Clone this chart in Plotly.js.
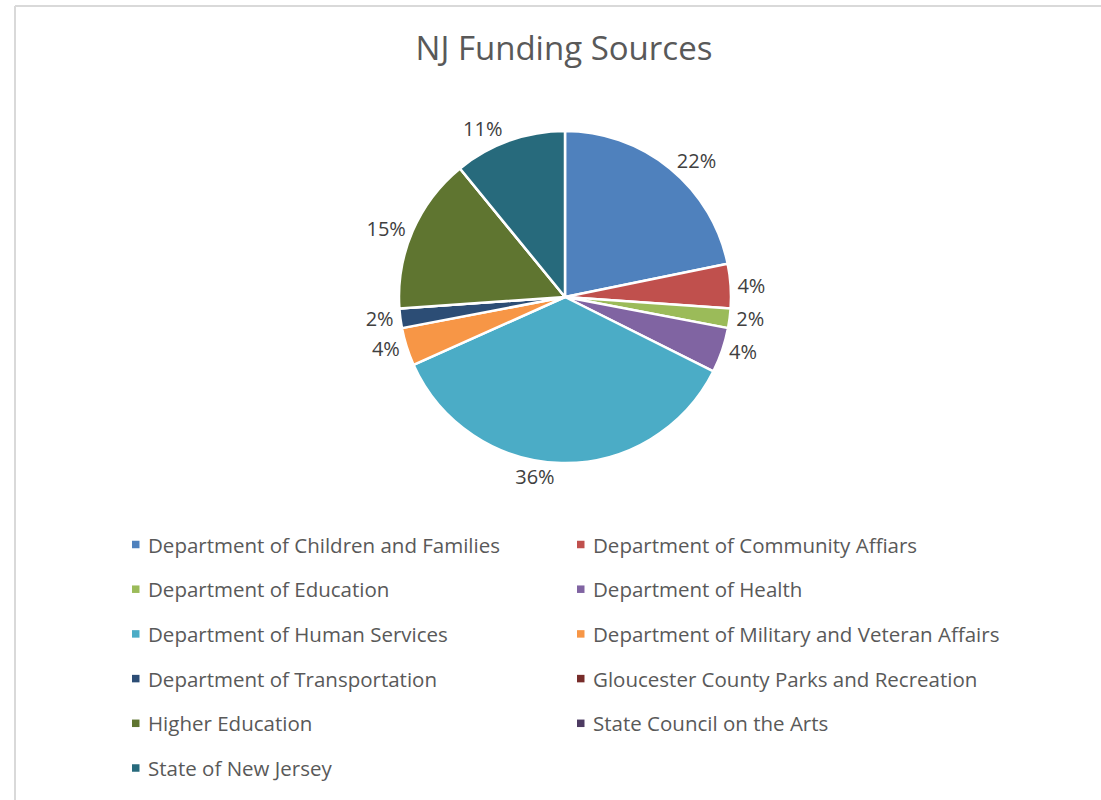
<!DOCTYPE html>
<html>
<head>
<meta charset="utf-8">
<script src="https://cdn.plot.ly/plotly-3.0.1.min.js"></script>
<style>
  html, body { margin: 0; padding: 0; background: #ffffff; }
  #chart { width: 1101px; height: 800px; }
</style>
</head>
<body>
<div id="chart"></div>
<script>
// ---- data ----
const categories = [
  "Department of Children and Families",
  "Department of Community Affiars",
  "Department of Education",
  "Department of Health",
  "Department of Human Services",
  "Department of Military and Veteran Affairs",
  "Department of Transportation",
  "Gloucester County Parks and Recreation",
  "Higher Education",
  "State Council on the Arts",
  "State of New Jersey"
];
const shares = [21.8, 4.3, 1.9, 4.4, 35.9, 3.7, 1.9, 0, 15.2, 0, 10.9];
const colors = [
  "#4F81BD", "#C0504D", "#9BBB59", "#8064A2", "#4BACC6", "#F79646",
  "#2C4D75", "#772C2A", "#5F7530", "#4D3B62", "#276A7C"
];
const chartTitle = "NJ Funding Sources";

// ---- layout constants ----
const W = 1101, H = 800;
const FONT = "'Open Sans', Lato, sans-serif";
const px = x => x / W;
const py = y => 1 - y / H;

const trace = {
  type: "pie",
  labels: categories,
  values: shares,
  sort: false,
  direction: "clockwise",
  rotation: 0,
  marker: { colors: colors, line: { color: "#ffffff", width: 2.5 } },
  textinfo: "percent",
  texttemplate: "%{percent:.0%}",
  textposition: shares.map(v => v > 0 ? "outside" : "none"),
  outsidetextfont: { family: FONT, size: 20, color: "#404040" },
  domain: { x: [px(399), px(731)], y: [py(463), py(131)] },
  showlegend: false,
  hoverinfo: "label+percent"
};

// manual two-column legend built from categories/colors
const annotations = [];
const shapes = [];
const colX = [132, 577];
const rowY0 = 544.5, rowStep = 44.7, sq = 7.5;
categories.forEach((name, i) => {
  const col = i % 2, row = Math.floor(i / 2);
  const cy = rowY0 + row * rowStep;
  const x0 = colX[col];
  shapes.push({
    type: "rect", xref: "paper", yref: "paper",
    x0: px(x0), x1: px(x0 + sq), y0: py(cy + sq / 2), y1: py(cy - sq / 2),
    fillcolor: colors[i], line: { width: 0 }
  });
  annotations.push({
    xref: "paper", yref: "paper",
    x: px(x0 + 14), y: py(cy),
    xanchor: "left", yanchor: "middle",
    text: name, showarrow: false,
    font: { family: FONT, size: 20.5, color: "#595959" }
  });
});

// chart frame lines (light gray)
shapes.push({ type: "line", xref: "paper", yref: "paper",
  x0: px(15), x1: px(15), y0: -0.1, y1: py(6), line: { color: "#D9D9D9", width: 2 } });
shapes.push({ type: "line", xref: "paper", yref: "paper",
  x0: px(15), x1: 1.1, y0: py(6), y1: py(6), line: { color: "#D9D9D9", width: 2 } });

const layout = {
  width: W, height: H,
  margin: { l: 0, r: 0, t: 0, b: 0 },
  paper_bgcolor: "#ffffff",
  title: {
    text: chartTitle,
    font: { family: FONT, size: 33, color: "#595959" },
    x: px(564), xanchor: "center",
    y: py(48), yanchor: "middle"
  },
  showlegend: false,
  annotations: annotations,
  shapes: shapes
};

Plotly.newPlot("chart", [trace], layout, { displayModeBar: false, staticPlot: true });
</script>
</body>
</html>
